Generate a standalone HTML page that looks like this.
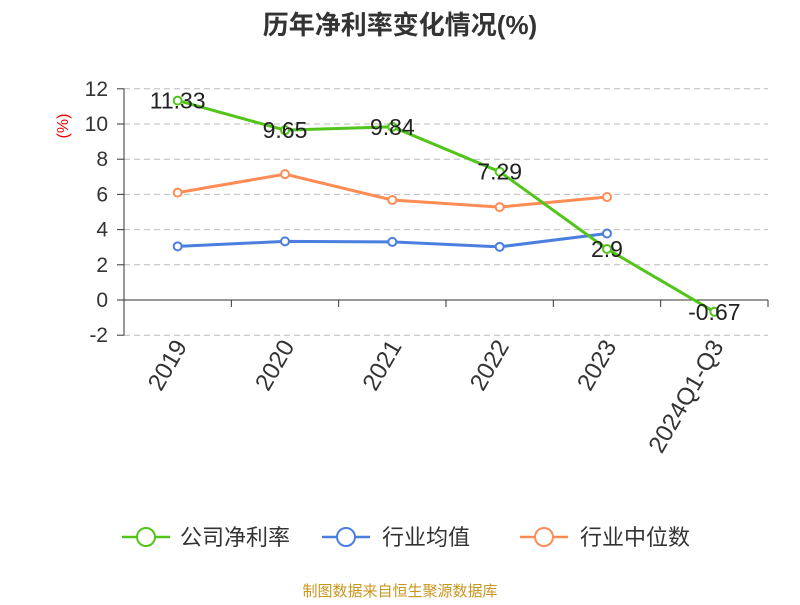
<!DOCTYPE html>
<html><head><meta charset="utf-8"><style>
body{margin:0;background:#fff;width:800px;height:600px;overflow:hidden;font-family:"Liberation Sans","Noto Sans CJK SC",sans-serif}
</style></head><body>
<svg width="800" height="600" id="svg" font-family="Liberation Sans, Noto Sans CJK SC, sans-serif">
<text x="400" y="34" text-anchor="middle" font-size="26" font-weight="bold" fill="#333">历年净利率变化情况(%)</text>
<text transform="translate(68,126) rotate(-90)" text-anchor="middle" font-size="16" fill="#e00">(%)</text>
<g id="grid"></g><g id="axes"></g><g id="series"></g>
<g>
<g><line x1="122" y1="537" x2="170" y2="537" stroke="#52c41a" stroke-width="2.5"/><circle cx="146" cy="537" r="9" fill="#fff" stroke="#52c41a" stroke-width="2"/><text x="180" y="545" font-size="22" fill="#333">公司净利率</text></g>
<g><line x1="322" y1="537" x2="370" y2="537" stroke="#4a7fe0" stroke-width="2.5"/><circle cx="346" cy="537" r="9" fill="#fff" stroke="#4a7fe0" stroke-width="2"/><text x="382" y="545" font-size="22" fill="#333">行业均值</text></g>
<g><line x1="520" y1="537" x2="568" y2="537" stroke="#ff8c55" stroke-width="2.5"/><circle cx="544" cy="537" r="9" fill="#fff" stroke="#ff8c55" stroke-width="2"/><text x="580" y="545" font-size="22" fill="#333">行业中位数</text></g>
</g>
<text x="400" y="596" text-anchor="middle" font-size="15" fill="#c8961e">制图数据来自恒生聚源数据库</text>
</svg>
<script>
const categories=["2019","2020","2021","2022","2023","2024Q1-Q3"];
const companyValues=[11.33,9.65,9.84,7.29,2.9,-0.67];
const industryAvg=[3.05,3.33,3.3,3.02,3.78];
const industryMedian=[6.1,7.15,5.68,5.28,5.85];
const yTicks=[-2,0,2,4,6,8,10,12];
const NS="http://www.w3.org/2000/svg";
const X0=124,X1=768,Y0=300,PU=17.6;
const bw=(X1-X0)/categories.length;
const xs=i=>X0+bw*(i+0.5);
const ys=v=>Y0-v*PU;
function mk(p,t,a){const e=document.createElementNS(NS,t);for(const k in a)e.setAttribute(k,a[k]);p.appendChild(e);return e;}
const grid=document.getElementById('grid'),axes=document.getElementById('axes'),ser=document.getElementById('series');
yTicks.forEach(t=>{
 if(t!==0){const g=mk(grid,'line',{x1:X0,x2:X1,y1:ys(t),y2:ys(t),stroke:'#bbb','stroke-dasharray':'6,4'});
 
 }
 const tk=mk(axes,'line',{x1:X0-7,x2:X0,y1:ys(t),y2:ys(t),stroke:'#333'});
 
 
 const l=mk(axes,'text',{x:X0-16,y:ys(t)+7,'text-anchor':'end','font-size':21,fill:'#333'});l.textContent=t;
 
 
});
const ya=mk(axes,'line',{x1:X0,x2:X0,y1:ys(12),y2:ys(-2),stroke:'#333'});


const xa=mk(axes,'line',{x1:X0,x2:X1,y1:Y0,y2:Y0,stroke:'#333'});


for(let i=0;i<=categories.length;i++){const t=mk(axes,'line',{x1:X0+bw*i,x2:X0+bw*i,y1:Y0,y2:Y0+7,stroke:'#333'});
 
 }
categories.forEach((c,i)=>{const l=mk(axes,'text',{transform:`translate(${xs(i)+10},${Y0+46}) rotate(-60)`,'text-anchor':'end','font-size':24,fill:'#333'});l.textContent=c;
 
 });
function line(vals,color,name,labels){
 const g=mk(ser,'g',{});
 
 
 mk(g,'polyline',{points:vals.map((v,i)=>xs(i)+','+ys(v)).join(' '),fill:'none',stroke:color,'stroke-width':3});
 vals.forEach((v,i)=>{const c=mk(g,'circle',{cx:xs(i),cy:ys(v),r:4,fill:'#fff',stroke:color,'stroke-width':2});
  
  
  if(labels){const t=mk(g,'text',{x:xs(i),y:ys(v)+8,'text-anchor':'middle','font-size':23,fill:'#222'});t.textContent=v;
   
   }
 });
}
line(industryMedian,'#ff8c55','industry-median-series',false);
line(industryAvg,'#4a7fe0','industry-avg-series',false);
line(companyValues,'#52c41a','company-series',true);
</script>
</body></html>
